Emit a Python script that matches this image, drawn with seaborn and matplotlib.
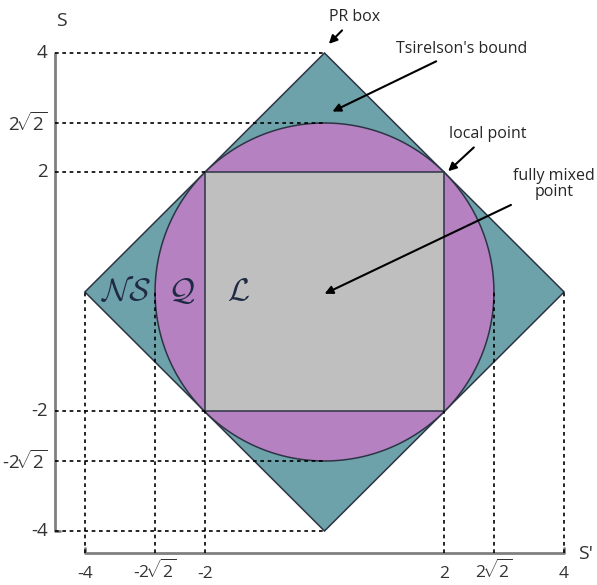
import numpy as np
import pandas as pd
import seaborn as sns
import matplotlib.pyplot as plt

# bounds on S and S' (CHSH-type values)
pr_box = 4.0
tsirelson = 2 * np.sqrt(2)
local_bound = 2.0

tick_values = [-4, -2 * np.sqrt(2), -2, 2, 2 * np.sqrt(2), 4]
tick_labels = ["-4", r"-2$\!\sqrt{2}$", "-2", "2", r"2$\!\sqrt{2}$", "4"]

region_labels = [r"$\mathcal{N}\mathcal{S}$", r"$\mathcal{Q}$", r"$\mathcal{L}$"]
region_x = [-3.31, -2.38, -1.44]

sns.set_theme(style="white")
plt.rcParams["font.family"] = ["Open Sans", "DejaVu Sans"]
plt.rcParams["mathtext.fontset"] = "custom"
plt.rcParams["mathtext.rm"] = "Open Sans"
plt.rcParams["mathtext.cal"] = "cmsy10"

teal = "#6ea2ab"
purple = "#b581c1"
grey = "#bfbfbf"
edge = "#2c3444"

fig = plt.figure(figsize=(5.97, 5.85), dpi=100)
ax = fig.add_axes([0, 0, 1, 1])

# nested regions: no-signalling diamond, quantum circle, local square
ax.fill([pr_box, 0, -pr_box, 0], [0, pr_box, 0, -pr_box], color=teal, ec=edge, lw=1.1, zorder=1)
t = np.linspace(0, 2 * np.pi, 400)
ax.fill(tsirelson * np.cos(t), tsirelson * np.sin(t), color=purple, ec=edge, lw=1.1, zorder=2)
ax.fill([-local_bound, local_bound, local_bound, -local_bound],
        [-local_bound, -local_bound, local_bound, local_bound], color=grey, ec=edge, lw=1.1, zorder=3)

# axes lines
x_axis_y = -4.37
y_axis_x = -4.5
ax.plot([y_axis_x, y_axis_x, y_axis_x + 0.08], [pr_box, -pr_box, -pr_box], color="#808080", lw=2, zorder=4)
ax.plot([-pr_box, -pr_box, pr_box, pr_box], [x_axis_y + 0.08, x_axis_y, x_axis_y, x_axis_y + 0.08],
        color="#808080", lw=2, zorder=4)

# dashed guides
h_end = [0, 0, -local_bound, -local_bound, 0, 0]
v_end = [0, 0, -local_bound, -local_bound, 0, 0]
rows = []
for i, (v, e) in enumerate(zip(tick_values, h_end)):
    rows.append(dict(seg=f"h{i}", x=y_axis_x, y=v))
    rows.append(dict(seg=f"h{i}", x=e, y=v))
for i, (v, e) in enumerate(zip(tick_values, v_end)):
    rows.append(dict(seg=f"v{i}", x=v, y=x_axis_y))
    rows.append(dict(seg=f"v{i}", x=v, y=e))
guides = pd.DataFrame(rows)
sns.lineplot(data=guides, x="x", y="y", units="seg", estimator=None, sort=False,
             color="black", lw=1.2, linestyle=(0, (2.2, 2.2)), ax=ax, zorder=5)
ax.set_xlim(-5.417, 4.549)
ax.set_ylim(-4.904, 4.887)
ax.axis("off")

# tick labels
for v, lab in zip(tick_values, tick_labels):
    ax.text(-4.62, v, lab, ha="right", va="center", fontsize=13.5, color="#333333")
    ax.text(v, -4.78, lab, ha="center", va="baseline", fontsize=12.5, color="#333333")
ax.text(-4.4, 4.53, "S", ha="center", va="center", fontsize=14, color="#333333")
ax.text(4.23, -4.39, "S'", ha="left", va="center", fontsize=14, color="#333333")

for x, lab in zip(region_x, region_labels):
    ax.text(x, 0.0, lab, ha="center", va="center", fontsize=23, color="#1f2a44", zorder=6)

# annotations
arrow = dict(arrowstyle="-|>", color="black", lw=1.5, mutation_scale=12)
ax.annotate("PR box", xy=(0.04, 4.12), xytext=(0.51, 4.6), fontsize=11.5, ha="center", va="center",
            arrowprops=arrow, zorder=7)
ax.annotate("Tsirelson's bound", xy=(0.09, 3.0), xytext=(1.2, 4.07), fontsize=11.5, ha="left", va="center",
            arrowprops=arrow, zorder=7)
ax.annotate("local point", xy=(2.03, 1.99), xytext=(2.73, 2.64), fontsize=11.5, ha="center", va="center",
            arrowprops=arrow, zorder=7)
ax.annotate("fully mixed\npoint", xy=(-0.04, -0.05), xytext=(3.83, 1.8), fontsize=11.5, ha="center",
            va="center", multialignment="center", linespacing=1.0, arrowprops=arrow, zorder=7)

fig.savefig("out.png", dpi=100)
